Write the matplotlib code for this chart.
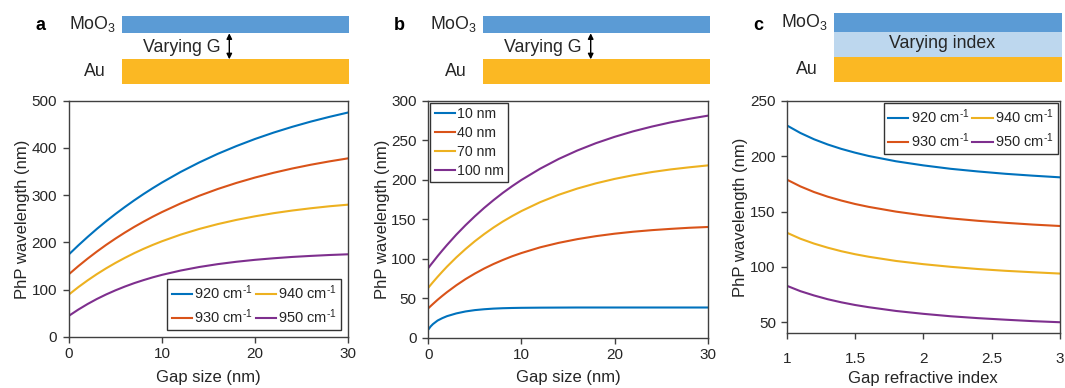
import matplotlib
matplotlib.use("Agg")
import matplotlib.pyplot as plt
from matplotlib.patches import Rectangle, FancyArrowPatch

plt.rcParams['font.family'] = ['Liberation Sans', 'DejaVu Sans']
plt.rcParams['mathtext.fontset'] = 'custom'
plt.rcParams['mathtext.rm'] = 'Liberation Sans'
plt.rcParams['mathtext.it'] = 'Liberation Sans'
plt.rcParams['mathtext.bf'] = 'Liberation Sans:bold'

# ---------------- data ----------------
# panel a: gap size (nm) vs PhP wavelength (nm) for four frequencies
gap_a = [0, 1, 2, 3, 4, 5, 6, 7, 8, 9, 10, 12, 14, 16, 18, 20, 22, 24, 26, 28, 30]
a_920 = [175, 193.8, 211.7, 228.8, 245, 260.4, 275, 289, 302.3, 314.9, 326.9,
         349.2, 369.3, 387.6, 404, 419, 432.5, 444.7, 455.8, 465.8, 475]
a_930 = [133, 149.9, 165.8, 180.8, 195, 208.3, 220.9, 232.8, 243.9, 254.5, 264.4,
         282.6, 298.8, 313.2, 326, 337.4, 347.5, 356.5, 364.5, 371.6, 378]
a_940 = [90, 105.5, 119.8, 133.1, 145.4, 156.8, 167.4, 177.3, 186.4, 194.8, 202.6,
         216.6, 228.6, 238.9, 247.8, 255.4, 262, 267.6, 272.4, 276.6, 280]
a_950 = [45, 58, 69.8, 80.5, 90.1, 98.8, 106.7, 113.9, 120.3, 126.2, 131.5,
         140.6, 148.1, 154.2, 159.2, 163.3, 166.6, 169.4, 171.6, 173.5, 175]
labels_a = ['920 cm$^{\\text{-}1}$', '930 cm$^{\\text{-}1}$',
            '940 cm$^{\\text{-}1}$', '950 cm$^{\\text{-}1}$']

# panel b: gap size vs PhP wavelength for four MoO3 thicknesses
gap_b = [0, 0.25, 0.5, 1, 1.5, 2, 3, 4, 5, 6, 7, 8, 9, 10, 12, 14, 16, 18, 20,
         22, 24, 26, 28, 30]
b_10 = [10, 14, 17, 21.5, 24.5, 27, 30.5, 33, 34.7, 35.8, 36.6, 37.1, 37.4, 37.6,
        37.8, 37.9, 38, 38, 38, 38, 38, 38, 38, 38]
b_40 = [37, 39.8, 42.5, 47.8, 52.7, 57.4, 66.1, 74, 81, 87.4, 93.1, 98.2, 102.9, 107,
        114.2, 119.9, 124.6, 128.4, 131.5, 134, 136, 137.6, 139, 140]
b_70 = [63, 66.6, 70.1, 76.9, 83.4, 89.7, 101.4, 112.1, 122, 131, 139.3, 146.9, 153.8,
        160.2, 171.4, 180.8, 188.7, 195.3, 200.9, 205.6, 209.6, 212.9, 215.6, 218]
b_100 = [88, 91.9, 95.6, 103.1, 110.2, 117.1, 130.2, 142.3, 153.6, 164.2, 174, 183.2,
         191.7, 199.6, 213.8, 226.2, 236.9, 246.2, 254.2, 261.2, 267.2, 272.5, 277, 281]
labels_b = ['10 nm', '40 nm', '70 nm', '100 nm']

# panel c: gap refractive index vs PhP wavelength
idx_c = [1, 1.1, 1.2, 1.3, 1.4, 1.5, 1.6, 1.8, 2.0, 2.2, 2.4, 2.6, 2.8, 3.0]
c_920 = [228, 221.1, 215.4, 210.7, 206.7, 203.3, 200.3, 195.5, 191.8, 188.7, 186.3,
         184.2, 182.5, 181.0]
c_930 = [179, 172.8, 167.7, 163.5, 160.0, 156.9, 154.3, 150.0, 146.6, 143.9, 141.7,
         139.9, 138.3, 137.0]
c_940 = [131, 125.5, 121.1, 117.4, 114.2, 111.5, 109.2, 105.4, 102.5, 100.1, 98.1,
         96.5, 95.2, 94.0]
c_950 = [83, 78.1, 74.2, 70.8, 68.0, 65.6, 63.6, 60.2, 57.6, 55.4, 53.7, 52.3,
         51.0, 50.0]
labels_c = labels_a

colors = ['#0072BD', '#D95319', '#EDB120', '#7E2F8E']
TXT = '#262626'
SP = '#404040'

fig = plt.figure(figsize=(10.65, 3.88), dpi=100)
W, H = 1065, 388

def mkax(l, r, t, b):
    return fig.add_axes([l / W, 1 - b / H, (r - l) / W, (b - t) / H])

axa = mkax(69, 348, 100.7, 337)
axb = mkax(428.3, 707.7, 100.7, 337.5)
axc = mkax(786.7, 1060, 101, 333.3)

def style(ax, xpad, ypad):
    for s in ax.spines.values():
        s.set_color(SP)
        s.set_linewidth(1.0)
    ax.tick_params(direction='out', length=4, width=1.0, color=SP,
                   labelsize=11, labelcolor=TXT, top=False, right=False)
    ax.tick_params(axis='x', pad=xpad)
    ax.tick_params(axis='y', pad=ypad)

def leg(ax, fs=10.5, **kw):
    lg = ax.legend(fontsize=fs, frameon=True, fancybox=False, framealpha=1,
                   edgecolor='#333333', handlelength=1.4, handletextpad=0.15,
                   borderpad=0.3, labelspacing=0.35, **kw)
    lg.get_frame().set_linewidth(1.0)
    for t in lg.get_texts():
        t.set_color(TXT)
    return lg

# panel a
for y, c, lab in zip([a_920, a_930, a_940, a_950], colors, labels_a):
    axa.plot(gap_a, y, color=c, lw=1.5, label=lab)
axa.set_xlim(0, 30)
axa.set_ylim(0, 500)
axa.set_xticks([0, 10, 20, 30])
axa.set_yticks([0, 100, 200, 300, 400, 500])
style(axa, 3.5, 4.5)
axa.set_xlabel('Gap size (nm)', fontsize=12, color=TXT, labelpad=6)
axa.set_ylabel('PhP wavelength (nm)', fontsize=12, color=TXT, labelpad=1)
leg(axa, loc='lower right', ncol=2, columnspacing=0.2, borderaxespad=0.45)

# panel b
for y, c, lab in zip([b_10, b_40, b_70, b_100], colors, labels_b):
    axb.plot(gap_b, y, color=c, lw=1.5, label=lab)
axb.set_xlim(0, 30)
axb.set_ylim(0, 300)
axb.set_xticks([0, 10, 20, 30])
axb.set_yticks([0, 50, 100, 150, 200, 250, 300])
style(axb, 3.5, 4.5)
axb.set_xlabel('Gap size (nm)', fontsize=12, color=TXT, labelpad=6)
axb.set_ylabel('PhP wavelength (nm)', fontsize=12, color=TXT, labelpad=1)
leg(axb, fs=10.2, loc='upper left', borderaxespad=0.15)

# panel c
for y, c, lab in zip([c_920, c_930, c_940, c_950], colors, labels_c):
    axc.plot(idx_c, y, color=c, lw=1.5, label=lab)
axc.set_xlim(1, 3)
axc.set_ylim(40, 250)
axc.set_xticks([1, 1.5, 2, 2.5, 3])
axc.set_xticklabels(['1', '1.5', '2', '2.5', '3'])
axc.set_yticks([50, 100, 150, 200, 250])
style(axc, 9.5, 3.8)
axc.set_xlabel('Gap refractive index', fontsize=12, color=TXT, labelpad=3.5)
axc.set_ylabel('PhP wavelength (nm)', fontsize=12, color=TXT, labelpad=2)
leg(axc, loc='upper right', ncol=2, columnspacing=0.2, borderaxespad=0.15)

# ---------------- schematics (overlay in pixel coordinates) ----------------
ov = fig.add_axes([0, 0, 1, 1], zorder=-1)
ov.set_xlim(0, W)
ov.set_ylim(H, 0)
ov.axis('off')

BLUE = '#5B9BD5'
GOLD = '#FBB823'
LBLUE = '#BDD7EE'

def rect(x0, x1, y0, y1, c):
    ov.add_patch(Rectangle((x0, y0), x1 - x0, y1 - y0, facecolor=c,
                           edgecolor='none'))

def arrow(x, y0, y1):
    ov.add_patch(FancyArrowPatch((x, y0), (x, y1), arrowstyle='<|-|>',
                                 mutation_scale=8, color='black', lw=1.0,
                                 shrinkA=0, shrinkB=0))

fs_s = 12.8
# a
rect(121.7, 349, 16, 33.3, BLUE)
rect(121.7, 349, 59.3, 84, GOLD)
arrow(229.3, 33.3, 59.3)
ov.text(116, 24.5, 'MoO$_3$', fontsize=fs_s, ha='right', va='center', color=TXT)
ov.text(106, 72, 'Au', fontsize=fs_s, ha='right', va='center', color=TXT)
ov.text(221, 47, 'Varying G', fontsize=fs_s, ha='right', va='center', color=TXT)
ov.text(35, 25, 'a', fontsize=13, fontweight='bold', ha='left', va='center', color='black')
# b
rect(482.7, 710, 16, 33.3, BLUE)
rect(482.7, 710, 59.3, 84, GOLD)
arrow(590.7, 33.3, 59.3)
ov.text(477.5, 24.5, 'MoO$_3$', fontsize=fs_s, ha='right', va='center', color=TXT)
ov.text(467, 72, 'Au', fontsize=fs_s, ha='right', va='center', color=TXT)
ov.text(582, 47, 'Varying G', fontsize=fs_s, ha='right', va='center', color=TXT)
ov.text(394, 25, 'b', fontsize=13, fontweight='bold', ha='left', va='center', color='black')
# c
rect(834, 1061.7, 13.3, 31.7, BLUE)
rect(834, 1061.7, 31.7, 56.7, LBLUE)
rect(834, 1061.7, 56.7, 81.7, GOLD)
ov.text(828.5, 21.5, 'MoO$_3$', fontsize=fs_s, ha='right', va='center', color=TXT)
ov.text(817.5, 70, 'Au', fontsize=fs_s, ha='right', va='center', color=TXT)
ov.text(942, 44, 'Varying index', fontsize=fs_s, ha='center', va='center', color=TXT)
ov.text(753, 25, 'c', fontsize=13, fontweight='bold', ha='left', va='center', color='black')

fig.savefig('out.png', dpi=100)
